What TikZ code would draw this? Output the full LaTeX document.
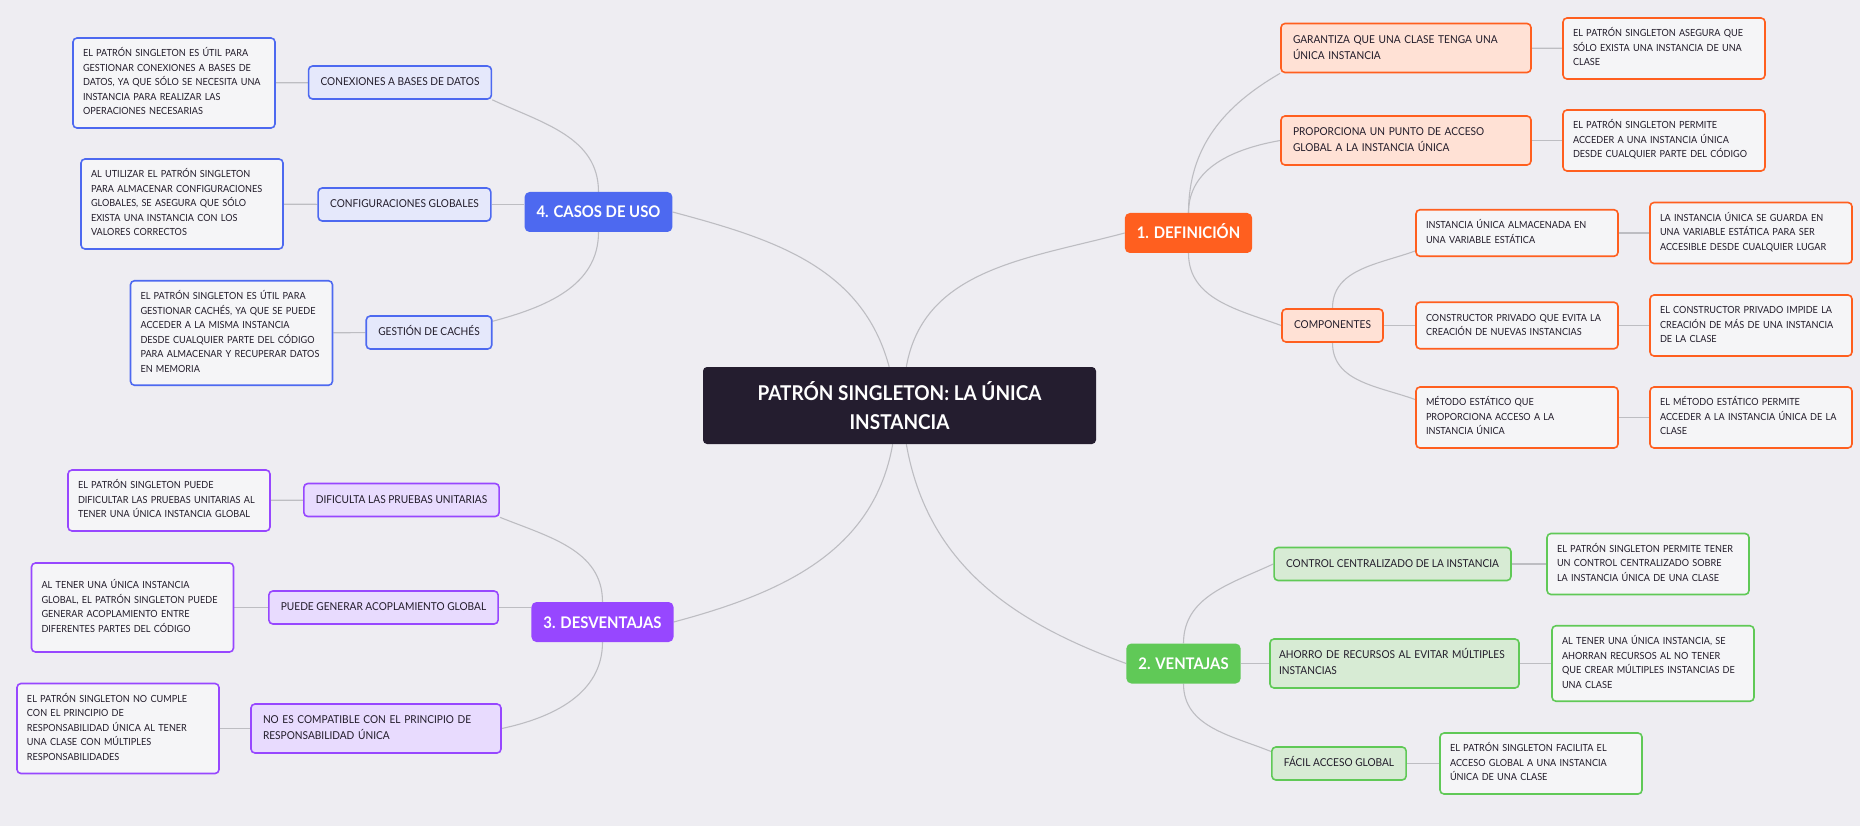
\documentclass[tikz,border=0pt]{standalone}
\usepackage{fontspec}
\setmainfont{Lato}[FakeStretch=0.93]
\usetikzlibrary{backgrounds}
\definecolor{bgc}{HTML}{EEEDF2}
\definecolor{rootc}{HTML}{241D2F}
\definecolor{linkc}{HTML}{BDBDC2}
\definecolor{inkc}{HTML}{221C2A}
\definecolor{notec}{HTML}{F5F5F7}
\definecolor{naranja}{HTML}{FF5F1F}
\definecolor{naranjaL}{HTML}{FFE1D5}
\definecolor{verde}{HTML}{60C957}
\definecolor{verdeL}{HTML}{D7EBD4}
\definecolor{morado}{HTML}{9747FF}
\definecolor{moradoL}{HTML}{E8DBFE}
\definecolor{azul}{HTML}{4D69F0}
\definecolor{azulL}{HTML}{E5E8FB}
\newcommand{\rootfont}{\bfseries\fontsize{20.4}{29}\selectfont}
\newcommand{\topicfont}{\bfseries\fontsize{16}{20}\selectfont}
\newcommand{\subfont}{\fontsize{10.9}{16}\selectfont}
\newcommand{\notefont}{\fontsize{9.8}{14.5}\selectfont}

\begin{document}
\begin{tikzpicture}[x=1pt, y=1pt,
    root/.style={fill=rootc, rounded corners=4pt, text=white, font=\rootfont, align=center, minimum width=393pt, minimum height=77pt},
    topic/.style={fill=#1, rounded corners=5pt, text=white, font=\topicfont, inner xsep=12pt, minimum height=40pt, text height=12pt, text depth=0pt},
    sub/.style={draw=#1, fill=#1L, line width=1.6pt, rounded corners=4pt, text=inkc, font=\subfont, align=left, inner xsep=12pt, inner ysep=8.5pt, execute at begin node=\strut, execute at end node=\strut},
    leaf/.style={draw=#1, fill=notec, line width=1.6pt, rounded corners=4pt, text=inkc, font=\notefont, align=left, inner xsep=10pt, inner ysep=8.75pt, text width=182pt, execute at begin node=\strut, execute at end node=\strut},
    link/.style={draw=linkc, line width=1.1pt}]
    \useasboundingbox (0,0) rectangle (1860,-826);

    \node[root] (root) at (899.5,-405.5) {PATRÓN SINGLETON: LA ÚNICA\\INSTANCIA};

    \node[topic=naranja] (def) at (1188.5,-233) {1. DEFINICIÓN};
    \node[sub=naranja, text width=226pt] (gar) at (1406,-48) {GARANTIZA QUE UNA CLASE TENGA UNA\\ÚNICA INSTANCIA};
    \node[sub=naranja, text width=226pt] (pro) at (1406,-140.5) {PROPORCIONA UN PUNTO DE ACCESO\\GLOBAL A LA INSTANCIA ÚNICA};
    \node[sub=naranja] (comp) at (1332.5,-325.5) {COMPONENTES};
    \node[leaf=naranja] (inst) at (1517,-233) {INSTANCIA ÚNICA ALMACENADA EN\\UNA VARIABLE ESTÁTICA};
    \node[leaf=naranja] (cons) at (1517,-325.5) {CONSTRUCTOR PRIVADO QUE EVITA LA\\CREACIÓN DE NUEVAS INSTANCIAS};
    \node[leaf=naranja] (met) at (1517,-417.5) {MÉTODO ESTÁTICO QUE\\PROPORCIONA ACCESO A LA\\INSTANCIA ÚNICA};
    \node[leaf=naranja] (garN) at (1664,-48.5) {EL PATRÓN SINGLETON ASEGURA QUE\\SÓLO EXISTA UNA INSTANCIA DE UNA\\CLASE};
    \node[leaf=naranja] (proN) at (1664,-140.5) {EL PATRÓN SINGLETON PERMITE\\ACCEDER A UNA INSTANCIA ÚNICA\\DESDE CUALQUIER PARTE DEL CÓDIGO};
    \node[leaf=naranja] (instN) at (1751,-233) {LA INSTANCIA ÚNICA SE GUARDA EN\\UNA VARIABLE ESTÁTICA PARA SER\\ACCESIBLE DESDE CUALQUIER LUGAR};
    \node[leaf=naranja] (consN) at (1751,-325.5) {EL CONSTRUCTOR PRIVADO IMPIDE LA\\CREACIÓN DE MÁS DE UNA INSTANCIA\\DE LA CLASE};
    \node[leaf=naranja] (metN) at (1751,-417.5) {EL MÉTODO ESTÁTICO PERMITE\\ACCEDER A LA INSTANCIA ÚNICA DE LA\\CLASE};

    \node[topic=verde] (ven) at (1183.5,-663.5) {2. VENTAJAS};
    \node[sub=verde] (ctl) at (1392.5,-564) {CONTROL CENTRALIZADO DE LA INSTANCIA};
    \node[sub=verde, text width=231pt, inner xsep=9pt] (aho) at (1394.5,-663.5) {AHORRO DE RECURSOS AL EVITAR MÚLTIPLES\\INSTANCIAS};
    \node[sub=verde] (fac) at (1339,-763.5) {FÁCIL ACCESO GLOBAL};
    \node[leaf=verde] (ctlN) at (1648,-564) {EL PATRÓN SINGLETON PERMITE TENER\\UN CONTROL CENTRALIZADO SOBRE\\LA INSTANCIA ÚNICA DE UNA CLASE};
    \node[leaf=verde] (ahoN) at (1653,-663.5) {AL TENER UNA ÚNICA INSTANCIA, SE\\AHORRAN RECURSOS AL NO TENER\\QUE CREAR MÚLTIPLES INSTANCIAS DE\\UNA CLASE};
    \node[leaf=verde] (facN) at (1541,-763.5) {EL PATRÓN SINGLETON FACILITA EL\\ACCESO GLOBAL A UNA INSTANCIA\\ÚNICA DE UNA CLASE};

    \node[topic=morado] (des) at (602.5,-622) {3. DESVENTAJAS};
    \node[sub=morado] (dif) at (401.5,-500) {DIFICULTA LAS PRUEBAS UNITARIAS};
    \node[sub=morado] (aco) at (383.5,-607.5) {PUEDE GENERAR ACOPLAMIENTO GLOBAL};
    \node[sub=morado, text width=226pt] (noc) at (376,-728.5) {NO ES COMPATIBLE CON EL PRINCIPIO DE\\RESPONSABILIDAD ÚNICA};
    \node[leaf=morado] (difN) at (169,-500.5) {EL PATRÓN SINGLETON PUEDE\\DIFICULTAR LAS PRUEBAS UNITARIAS AL\\TENER UNA ÚNICA INSTANCIA GLOBAL};
    \node[leaf=morado, minimum height=89pt] (acoN) at (132.5,-607.5) {AL TENER UNA ÚNICA INSTANCIA\\GLOBAL, EL PATRÓN SINGLETON PUEDE\\GENERAR ACOPLAMIENTO ENTRE\\DIFERENTES PARTES DEL CÓDIGO};
    \node[leaf=morado] (nocN) at (118,-728.5) {EL PATRÓN SINGLETON NO CUMPLE\\CON EL PRINCIPIO DE\\RESPONSABILIDAD ÚNICA AL TENER\\UNA CLASE CON MÚLTIPLES\\RESPONSABILIDADES};

    \node[topic=azul] (casos) at (598.5,-212) {4. CASOS DE USO};
    \node[sub=azul] (cdb) at (400,-82.5) {CONEXIONES A BASES DE DATOS};
    \node[sub=azul] (cfg) at (404.5,-204.5) {CONFIGURACIONES GLOBALES};
    \node[sub=azul] (cache) at (429,-332.5) {GESTIÓN DE CACHÉS};
    \node[leaf=azul] (dbN) at (174,-83) {EL PATRÓN SINGLETON ES ÚTIL PARA\\GESTIONAR CONEXIONES A BASES DE\\DATOS, YA QUE SÓLO SE NECESITA UNA\\INSTANCIA PARA REALIZAR LAS\\OPERACIONES NECESARIAS};
    \node[leaf=azul] (cfgN) at (182,-204) {AL UTILIZAR EL PATRÓN SINGLETON\\PARA ALMACENAR CONFIGURACIONES\\GLOBALES, SE ASEGURA QUE SÓLO\\EXISTA UNA INSTANCIA CON LOS\\VALORES CORRECTOS};
    \node[leaf=azul] (cacheN) at (231.5,-333) {EL PATRÓN SINGLETON ES ÚTIL PARA\\GESTIONAR CACHÉS, YA QUE SE PUEDE\\ACCEDER A LA MISMA INSTANCIA\\DESDE CUALQUIER PARTE DEL CÓDIGO\\PARA ALMACENAR Y RECUPERAR DATOS\\EN MEMORIA};

    \begin{scope}[on background layer]
    \fill[bgc] (0,0) rectangle (1860,-826);
    \draw[link] (root) to[out=105,in=-15] (casos.east);
    \draw[link] (root) to[out=80,in=195] (def.west);
    \draw[link] (root) to[out=-100,in=15] (des.east);
    \draw[link] (root) to[out=-80,in=160] (ven.west);
    \draw[link] (def) to[out=90,in=210] (gar.south west);
    \draw[link] (def) to[out=90,in=190] (pro.west);
    \draw[link] (def) to[out=-90,in=160] (comp.west);
    \draw[link] (comp) to[out=90,in=200] (inst.190);
    \draw[link] (comp) -- (cons);
    \draw[link] (comp) to[out=-90,in=160] (met.170);
    \draw[link] (ven) to[out=90,in=205] (ctl.west);
    \draw[link] (ven) -- (aho);
    \draw[link] (ven) to[out=-90,in=158] (fac.170);
    \draw[link] (des) to[out=90,in=-22] (dif.south east);
    \draw[link] (aco.east) -- (aco.east -| des.west);
    \draw[link] (des) to[out=-90,in=12] (noc.east);
    \draw[link] (casos) to[out=90,in=-25] (cdb.south east);
    \draw[link] (cfg.east) -- (cfg.east -| casos.west);
    \draw[link] (casos) to[out=-90,in=15] (cache.10);
    \foreach \a/\b in {gar/garN, pro/proN, inst/instN, cons/consN, met/metN, ctl/ctlN, aho/ahoN, fac/facN, dif/difN, aco/acoN, noc/nocN, cdb/dbN, cfg/cfgN, cache/cacheN}
        \draw[link] (\a) -- (\b);
    \end{scope}
\end{tikzpicture}
\end{document}
